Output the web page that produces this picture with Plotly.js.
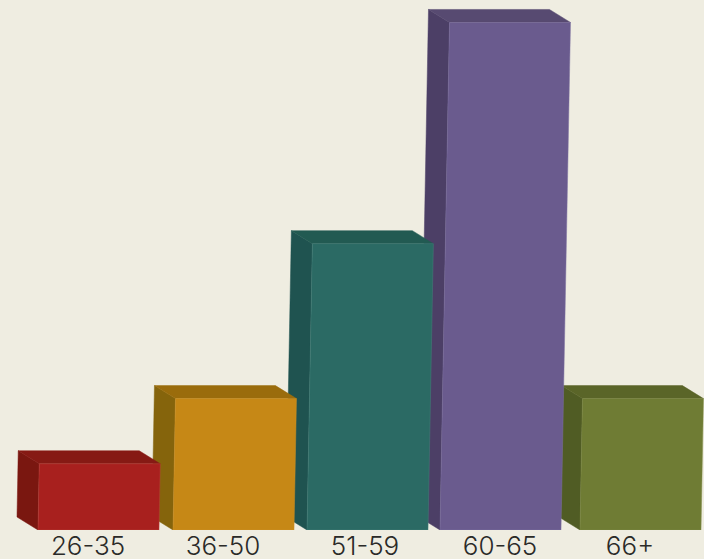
<!DOCTYPE html>
<html>
<head>
<meta charset="utf-8">
<script src="https://cdn.plot.ly/plotly-3.0.1.min.js"></script>
<style>html,body{margin:0;padding:0;background:#EFEDE1;overflow:hidden}</style>
</head>
<body>
<div id="chart" style="width:704px;height:559px"></div>
<script>
// Data
const categories = ['26-35', '36-50', '51-59', '60-65', '66+'];
const shares = [5.9, 11.7, 25.5, 45.2, 11.7];
const frontColors = ['#A8201E', '#C68816', '#2B6A64', '#6A5B8E', '#6F7C34'];
const topColors = ['#861A14', '#9A6C0C', '#225A52', '#574A71', '#5A6528'];
const sideColors = ['#7A1710', '#85640C', '#1F5350', '#4C3F66', '#505C24'];
const edgeColors = ['#B8403B', '#CC9128', '#46807A', '#7D70A0', '#7E8A46'];

// Projection settings (pixel-scale x axis, y axis in value units)
const baseLeft = [38, 173, 307, 440, 580];
const labelX = [88, 223, 365, 500, 630];
const barWidth = 121;
const yMax = 47.2;
const unitPx = 530 / yMax;
const depthX = 21, depthY = 13 / unitPx;
const leanPerUnit = 0.21;

const traces = [];
function face(xs, ys, fill, line, lw) {
  traces.push({
    type: 'scatter', mode: 'lines', x: xs.concat(xs[0]), y: ys.concat(ys[0]),
    fill: 'toself', fillcolor: fill, hoverinfo: 'skip', showlegend: false,
    line: {color: line || fill, width: lw || 0.5}
  });
}
for (let i = categories.length - 1; i >= 0; i--) {
  const v = shares[i], lean = v * leanPerUnit;
  const xl = baseLeft[i], xr = xl + barWidth;
  // left side
  face([xl, xl + lean, xl + lean - depthX, xl - depthX],
       [0, v, v + depthY, depthY], sideColors[i]);
  // top
  face([xl + lean, xr + lean, xr + lean - depthX, xl + lean - depthX],
       [v, v, v + depthY, v + depthY], topColors[i]);
  // front
  face([xl, xr, xr + lean, xl + lean], [0, 0, v, v], frontColors[i], edgeColors[i], 0.5);
}

const layout = {
  width: 704, height: 559,
  margin: {l: 0, r: 0, t: 0, b: 29, pad: 0},
  paper_bgcolor: '#EFEDE1', plot_bgcolor: '#EFEDE1',
  showlegend: false, hovermode: false,
  font: {family: 'Inter, Lato, sans-serif', color: '#2A2A28'},
  xaxis: {
    range: [0, 704], showgrid: false, zeroline: false, showline: false,
    tickmode: 'array', tickvals: labelX, ticktext: categories, ticks: '', ticklabelstandoff: -2,
    tickangle: 0, tickfont: {size: 26, weight: 300, family: 'Inter, Lato, sans-serif', color: '#2A2A28'}
  },
  yaxis: {range: [0, yMax], visible: false, showgrid: false, zeroline: false}
};
Plotly.newPlot('chart', traces, layout, {displayModeBar: false, staticPlot: true});
</script>
</body>
</html>
